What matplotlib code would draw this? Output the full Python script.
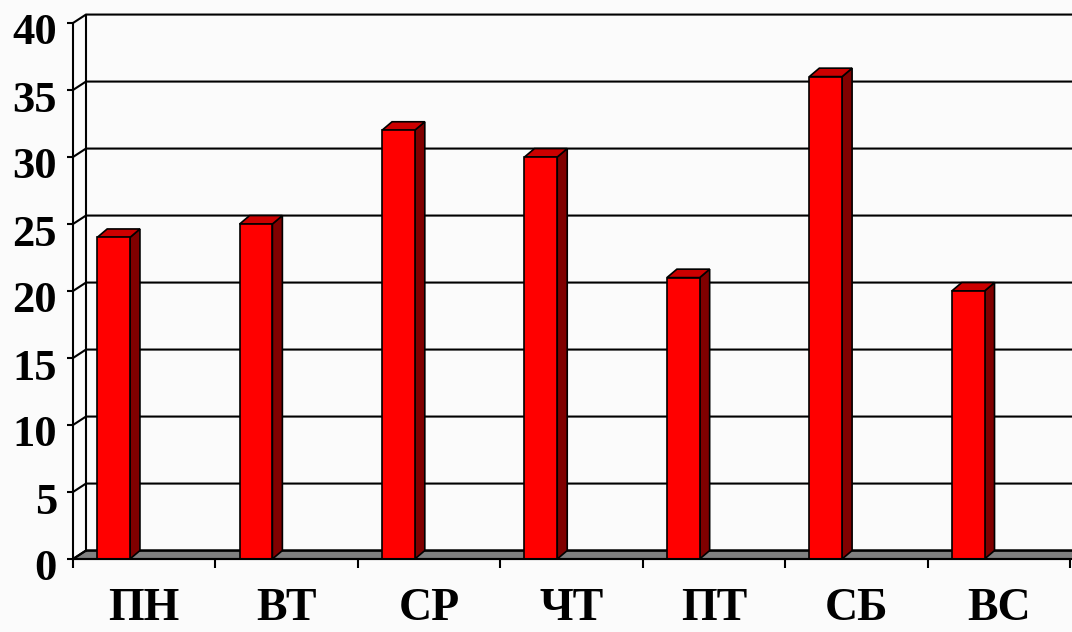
import numpy as np
import matplotlib
matplotlib.use("Agg")
import matplotlib.pyplot as plt
from matplotlib.patches import Polygon
from matplotlib.transforms import ScaledTranslation

days = ["ПН", "ВТ", "СР", "ЧТ", "ПТ", "СБ", "ВС"]
values = [24, 25, 32, 30, 21, 36, 20]
y_ticks = [0, 5, 10, 15, 20, 25, 30, 35, 40]

plt.rcParams["font.family"] = ["Liberation Serif", "DejaVu Serif"]
plt.rcParams["font.weight"] = "bold"

fig = plt.figure(figsize=(10.72, 6.32), dpi=100, facecolor="#fbfbfb")
ax = fig.add_axes([73 / 1072, 73 / 632, 997 / 1072, 536 / 632])
ax.set_facecolor("none")
n = len(days)
ax.set_xlim(0, n)
ax.set_ylim(0, 40)

# depth offsets (data units) for the fake 3d look
wdx, wdy = 0.091, 0.63
bdx, bdy = 0.07, 0.63

# floor
floor = Polygon([(0, 0), (n + 1, 0), (n + 1 + wdx, wdy), (wdx, wdy)],
                closed=True, facecolor="#808080", edgecolor="black", lw=1.5,
                clip_on=False, zorder=1)
ax.add_patch(floor)

# back wall edge and grid lines
ax.plot([wdx, wdx], [wdy, 40 + wdy], color="black", lw=1.5, clip_on=False, zorder=2)
for t in y_ticks:
    ax.plot([0, wdx, n + 1], [t, t + wdy, t + wdy], color="black", lw=1.5,
            clip_on=False, zorder=2)

# bars
x = np.arange(n) + 0.17
w = 0.23
bars = ax.bar(x, values, width=w, align="edge", color="#ff0000",
              edgecolor="black", lw=1.2, zorder=4)
for b, v in zip(bars, values):
    x0 = b.get_x()
    x1 = x0 + b.get_width()
    side = Polygon([(x1, 0), (x1 + bdx, bdy), (x1 + bdx, v + bdy), (x1, v)],
                   closed=True, facecolor="#800000", edgecolor="black", lw=1.2, zorder=3)
    top = Polygon([(x0, v), (x0 + bdx, v + bdy), (x1 + bdx, v + bdy), (x1, v)],
                  closed=True, facecolor="#cc0000", edgecolor="black", lw=1.2, zorder=3)
    ax.add_patch(side)
    ax.add_patch(top)

for s in ["top", "right"]:
    ax.spines[s].set_visible(False)
for s in ["left", "bottom"]:
    ax.spines[s].set_linewidth(1.5)
    ax.spines[s].set_zorder(5)

ax.set_yticks(y_ticks)
ax.set_yticklabels([str(t) for t in y_ticks], fontsize=32, fontweight="bold")
ax.tick_params(axis="y", length=4.5, width=1.5, pad=7)
shift = ScaledTranslation(0, -6 / 100, fig.dpi_scale_trans)
for lab in ax.get_yticklabels():
    lab.set_transform(lab.get_transform() + shift)

ax.set_xticks(np.arange(n + 1))
ax.set_xticklabels([])
ax.set_xticks(np.arange(n) + 0.5, minor=True)
ax.set_xticklabels(days, minor=True, fontsize=33, fontweight="bold")
ax.tick_params(axis="x", which="major", length=6.5, width=1.5)
ax.tick_params(axis="x", which="minor", length=0, pad=21)

fig.savefig("out.png", dpi=100, facecolor=fig.get_facecolor())
